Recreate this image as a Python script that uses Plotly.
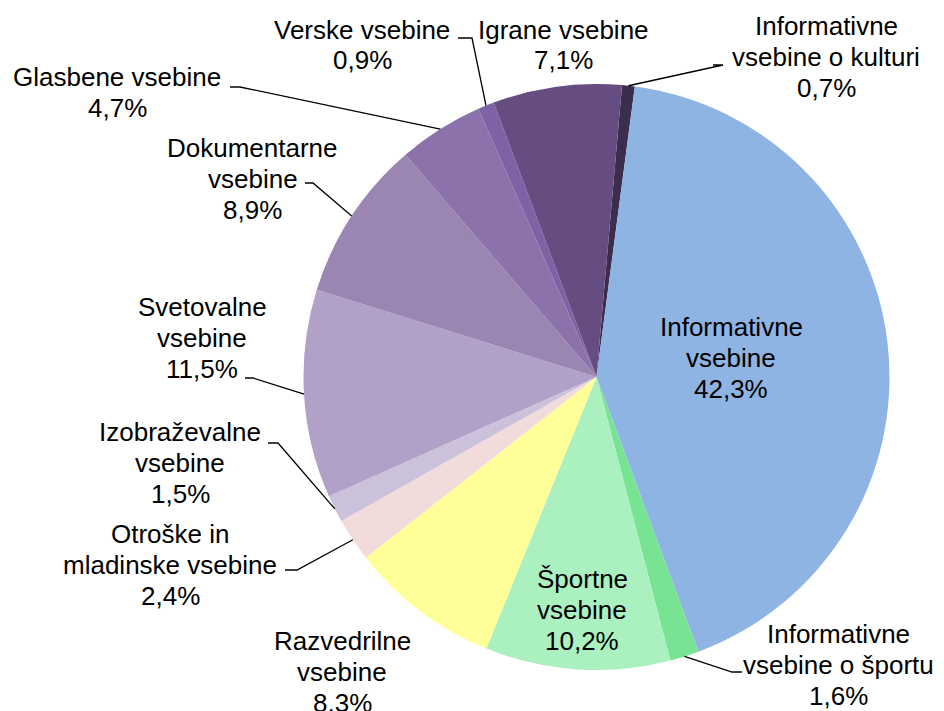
import math
import plotly.graph_objects as go

# data, clockwise from the top
labels = [
    'Informativne vsebine o kulturi', 'Informativne vsebine', 'Informativne vsebine o športu',
    'Športne vsebine', 'Razvedrilne vsebine', 'Otroške in mladinske vsebine',
    'Izobraževalne vsebine', 'Svetovalne vsebine', 'Dokumentarne vsebine',
    'Glasbene vsebine', 'Verske vsebine', 'Igrane vsebine',
]
values = [0.7, 42.3, 1.6, 10.2, 8.3, 2.4, 1.5, 11.5, 8.9, 4.7, 0.9, 7.1]
label_lines = [
    ['Informativne', 'vsebine o kulturi'], ['Informativne', 'vsebine'], ['Informativne', 'vsebine o športu'],
    ['Športne', 'vsebine'], ['Razvedrilne', 'vsebine'], ['Otroške in', 'mladinske vsebine'],
    ['Izobraževalne', 'vsebine'], ['Svetovalne', 'vsebine'], ['Dokumentarne', 'vsebine'],
    ['Glasbene vsebine'], ['Verske vsebine'], ['Igrane vsebine'],
]
colors = [
    '#3b2d4d', '#8eb4e3', '#77e393', '#abf0bf', '#ffff99', '#f2dcdb',
    '#ccc1da', '#b1a0c7', '#9b85b3', '#8b72ab', '#7d63a5', '#654c81',
]

W, H = 944, 711
OFF = 8          # page body margin
CX, CY, R = 596.5, 377, 293
ROT = 5
LINE_H = 31

# label centres (px, page coords) and leader elbow / end, None = no leader
label_pos = [
    (826, 57), (731, 358), (838, 665), (582, 610), (342, 672), (170, 565),
    (180, 463), (202, 338), (253, 179), (117, 92), (362, 45), (563, 45),
]
leaders = [
    [(723, 65), (713, 65)], None, [(732, 672), (742, 672)], None, None,
    [(297, 570), (285, 570)], [(278, 443), (268, 443)], [(253, 378), (245, 378)],
    [(313, 183), (305, 183)], [(240, 87), (230, 87)], [(472, 38), (458, 38)], None,
]


def px(x):
    return (x - OFF) / W


def py(y):
    return 1 - (y - OFF) / H


fig = go.Figure(go.Pie(
    labels=labels,
    values=values,
    sort=False,
    direction='clockwise',
    rotation=ROT,
    textinfo='none',
    hoverinfo='label+percent',
    marker=dict(colors=colors, line=dict(width=0)),
    domain=dict(x=[px(CX - R), px(CX + R)], y=[py(CY + R), py(CY - R)]),
    showlegend=False,
))

total = sum(values)
cum = 0
annotations = []
shapes = []
for i, v in enumerate(values):
    mid = math.radians(ROT + (cum + v / 2) / total * 360)
    cum += v
    lines = label_lines[i] + [f'{v:.1f}%'.replace('.', ',')]
    lx, ly = label_pos[i]
    n = len(lines)
    for k, line in enumerate(lines):
        yk = ly + (k - (n - 1) / 2) * LINE_H
        annotations.append(dict(
            x=px(lx), y=py(yk), xref='paper', yref='paper', text=line,
            showarrow=False, xanchor='center', yanchor='middle', align='center',
            font=dict(family='Arial, Liberation Sans', size=26, color='black'),
        ))
    if leaders[i]:
        ex, ey = CX + R * math.sin(mid), CY - R * math.cos(mid)
        (bx, by), (tx, ty) = leaders[i]
        path = f'M {px(ex)},{py(ey)} L {px(bx)},{py(by)} L {px(tx)},{py(ty)}'
        shapes.append(dict(type='path', xref='paper', yref='paper', path=path,
                           line=dict(color='black', width=1.3)))

fig.update_layout(
    width=W,
    height=H,
    margin=dict(l=0, r=0, t=0, b=0),
    paper_bgcolor='white',
    plot_bgcolor='white',
    annotations=annotations,
    shapes=shapes,
)

fig.write_html('out.html')
